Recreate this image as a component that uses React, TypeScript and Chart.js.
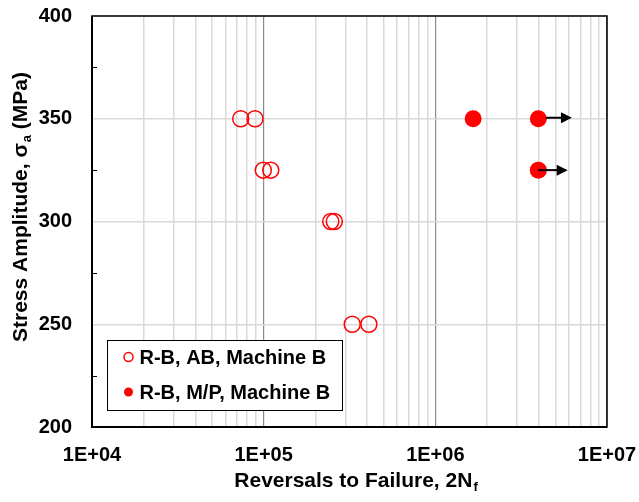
import React, { useEffect, useRef } from "react";
import { Chart, registerables } from "chart.js";

Chart.register(...registerables);

// ---- data ----
const openLabel = "R-B, AB, Machine B";
const openX = [73500, 89000, 99500, 110000, 246000, 258000, 328000, 410000];
const openY = [350, 350, 325, 325, 300, 300, 250, 250];

const filledLabel = "R-B, M/P, Machine B";
const filledX = [1660000, 3980000, 3980000];
const filledY = [350, 350, 325];

// run-out arrows (start / end in data units)
const arrowY = [350, 325];
const arrowStartX = [4400000, 3980000];
const arrowEndX = [6250000, 5900000];

const xMin = 1e4;
const xMax = 1e7;
const xDecades = [4, 5, 6, 7];
const xTickLabels = ["1E+04", "1E+05", "1E+06", "1E+07"];
const yMin = 200;
const yMax = 400;
const yStep = 50;
const yMinorTicks = [225, 275, 325, 375];

const xTitle = "Reversals to Failure, 2N";
const xTitleSub = "f";
const yTitleA = "Stress Amplitude, σ";
const yTitleSub = "a";
const yTitleB = " (MPa)";

const FONT = '"Liberation Sans", Arial, sans-serif';
const RED = "#ff0000";

export default function App() {
  const ref = useRef<HTMLCanvasElement | null>(null);

  useEffect(() => {
    const canvas = ref.current;
    if (!canvas) return;

    const overlay = {
      id: "overlay",
      afterDatasetsDraw(chart: any) {
        const ctx = chart.ctx;
        const xs = chart.scales.x;
        const ys = chart.scales.y;
        ctx.save();
        ctx.strokeStyle = "#000";
        ctx.fillStyle = "#000";
        ctx.lineWidth = 2;
        for (let i = 0; i < arrowY.length; i++) {
          const y = ys.getPixelForValue(arrowY[i]) - (i === 0 ? 1 : 0);
          const x0 = xs.getPixelForValue(arrowStartX[i]);
          const x1 = xs.getPixelForValue(arrowEndX[i]);
          ctx.beginPath();
          ctx.moveTo(x0, y);
          ctx.lineTo(x1 - 8, y);
          ctx.stroke();
          ctx.beginPath();
          ctx.moveTo(x1, y);
          ctx.lineTo(x1 - 11, y - 5.5);
          ctx.lineTo(x1 - 11, y + 5.5);
          ctx.closePath();
          ctx.fill();
        }
        ctx.restore();
      },
      afterDraw(chart: any) {
        const ctx = chart.ctx;
        const a = chart.chartArea;
        const ys = chart.scales.y;
        ctx.save();
        // frame
        ctx.strokeStyle = "#000";
        ctx.lineWidth = 1.5;
        ctx.strokeRect(a.left, a.top, a.right - a.left, a.bottom - a.top);
        ctx.lineWidth = 2;
        ctx.beginPath();
        ctx.moveTo(a.left, a.top);
        ctx.lineTo(a.left, a.bottom);
        ctx.lineTo(a.right, a.bottom);
        ctx.stroke();
        // minor y ticks (inward)
        ctx.lineWidth = 1;
        for (const v of yMinorTicks) {
          const y = Math.round(ys.getPixelForValue(v)) + 0.5;
          ctx.beginPath();
          ctx.moveTo(a.left, y);
          ctx.lineTo(a.left + 5, y);
          ctx.stroke();
        }

        // legend
        const lx = a.left + 15;
        const lw = 235;
        const lh = 70;
        const ly = a.bottom - 17 - lh;
        ctx.fillStyle = "#fff";
        ctx.fillRect(lx, ly, lw, lh);
        ctx.strokeStyle = "#000";
        ctx.lineWidth = 1;
        ctx.strokeRect(lx + 0.5, ly + 0.5, lw, lh);
        const items = chart.data.datasets;
        ctx.font = `bold 20px ${FONT}`;
        ctx.textBaseline = "middle";
        ctx.textAlign = "left";
        items.forEach((ds: any, i: number) => {
          const cy = ly + 17 + i * 35;
          const cx = lx + 21.5;
          ctx.beginPath();
          ctx.arc(cx, cy, 4.5, 0, Math.PI * 2);
          if (ds.pointBackgroundColor && ds.pointBackgroundColor !== "rgba(0,0,0,0)") {
            ctx.fillStyle = ds.pointBackgroundColor;
            ctx.fill();
          } else {
            ctx.strokeStyle = ds.pointBorderColor;
            ctx.lineWidth = 1.5;
            ctx.stroke();
          }
          ctx.fillStyle = "#000";
          ctx.fillText(ds.label, cx + 11, cy + 1);
        });

        // axis titles
        ctx.fillStyle = "#000";
        const mainFont = `bold 21px ${FONT}`;
        const subFont = `bold 13px ${FONT}`;
        // x title
        ctx.textBaseline = "alphabetic";
        ctx.textAlign = "left";
        ctx.font = mainFont;
        const w1 = ctx.measureText(xTitle).width;
        ctx.font = subFont;
        const w2 = ctx.measureText(xTitleSub).width;
        const cxT = (a.left + a.right) / 2 + 6;
        const startX = cxT - (w1 + w2) / 2;
        const baseY = 487;
        ctx.font = mainFont;
        ctx.fillText(xTitle, startX, baseY);
        ctx.font = subFont;
        ctx.fillText(xTitleSub, startX + w1 + 1, baseY + 4);

        // y title
        ctx.save();
        ctx.translate(27, 207);
        ctx.rotate(-Math.PI / 2);
        ctx.font = mainFont;
        const wa = ctx.measureText(yTitleA).width;
        const wb = ctx.measureText(yTitleB).width;
        ctx.font = subFont;
        const ws = ctx.measureText(yTitleSub).width;
        let px = -(wa + ws + wb + 1) / 2;
        ctx.font = mainFont;
        ctx.fillText(yTitleA, px, 0);
        px += wa + 1;
        ctx.font = subFont;
        ctx.fillText(yTitleSub, px, 4);
        px += ws;
        ctx.font = mainFont;
        ctx.fillText(yTitleB, px, 0);
        ctx.restore();

        ctx.restore();
      },
    };

    const chart = new Chart(canvas, {
      type: "scatter",
      data: {
        datasets: [
          {
            label: openLabel,
            data: openX.map((x, i) => ({ x, y: openY[i] })),
            pointStyle: "circle",
            pointRadius: 8,
            pointBorderWidth: 1.5,
            pointBorderColor: RED,
            pointBackgroundColor: "rgba(0,0,0,0)",
            showLine: false,
          },
          {
            label: filledLabel,
            data: filledX.map((x, i) => ({ x, y: filledY[i] })),
            pointStyle: "circle",
            pointRadius: 8.5,
            pointBorderWidth: 0,
            pointBorderColor: RED,
            pointBackgroundColor: RED,
            showLine: false,
          },
        ],
      },
      options: {
        responsive: false,
        animation: false,
        events: [],
        layout: { padding: { left: 0, top: 16, right: 32, bottom: 0 } },
        plugins: {
          legend: { display: false },
          tooltip: { enabled: false },
          title: { display: false },
        },
        scales: {
          x: {
            type: "logarithmic",
            min: xMin,
            max: xMax,
            afterBuildTicks(scale: any) {
              const t: any[] = [];
              xDecades.forEach((d, i) => {
                const base = Math.pow(10, d);
                const last = i === xDecades.length - 1;
                for (let m = 1; m <= (last ? 1 : 9); m++) {
                  t.push({ value: m * base, major: m === 1 });
                }
              });
              scale.ticks = t;
            },
            afterFit(scale: any) {
              scale.height = 75;
              scale.paddingLeft = 0;
              scale.paddingRight = 0;
            },
            border: { display: false },
            grid: {
              drawTicks: false,
              color: (c: any) => {
                const v = c.tick ? c.tick.value : 0;
                const lg = Math.log10(v);
                if (Math.abs(lg - Math.round(lg)) < 1e-9) {
                  return "#8a8a8a";
                }
                return "#d9d9d9";
              },
              lineWidth: (c: any) => {
                const v = c.tick ? c.tick.value : 0;
                const lg = Math.log10(v);
                return Math.abs(lg - Math.round(lg)) < 1e-9 ? 1.2 : 1.5;
              },
            },
            ticks: {
              autoSkip: false,
              maxRotation: 0,
              minRotation: 0,
              padding: 16,
              color: "#000",
              font: { family: FONT, size: 20, weight: "bold" },
              callback: (v: any) => {
                const lg = Math.log10(Number(v));
                const idx = xDecades.indexOf(Math.round(lg));
                if (Math.abs(lg - Math.round(lg)) < 1e-9 && idx >= 0) {
                  return xTickLabels[idx];
                }
                return "";
              },
            },
          },
          y: {
            type: "linear",
            min: yMin,
            max: yMax,
            afterFit(scale: any) {
              scale.width = 92;
              scale.paddingTop = 0;
              scale.paddingBottom = 0;
            },
            border: { display: false },
            grid: {
              drawTicks: false,
              color: "#d9d9d9",
              lineWidth: 1.5,
            },
            ticks: {
              stepSize: yStep,
              padding: 20,
              color: "#000",
              font: { family: FONT, size: 20, weight: "bold" },
            },
          },
        },
      },
      plugins: [overlay],
    } as any);

    return () => chart.destroy();
  }, []);

  return (
    <div style={{ position: "absolute", left: 0, top: 0, width: 639, height: 502, background: "#fff" }}>
      <canvas ref={ref} width={639} height={502} />
    </div>
  );
}
